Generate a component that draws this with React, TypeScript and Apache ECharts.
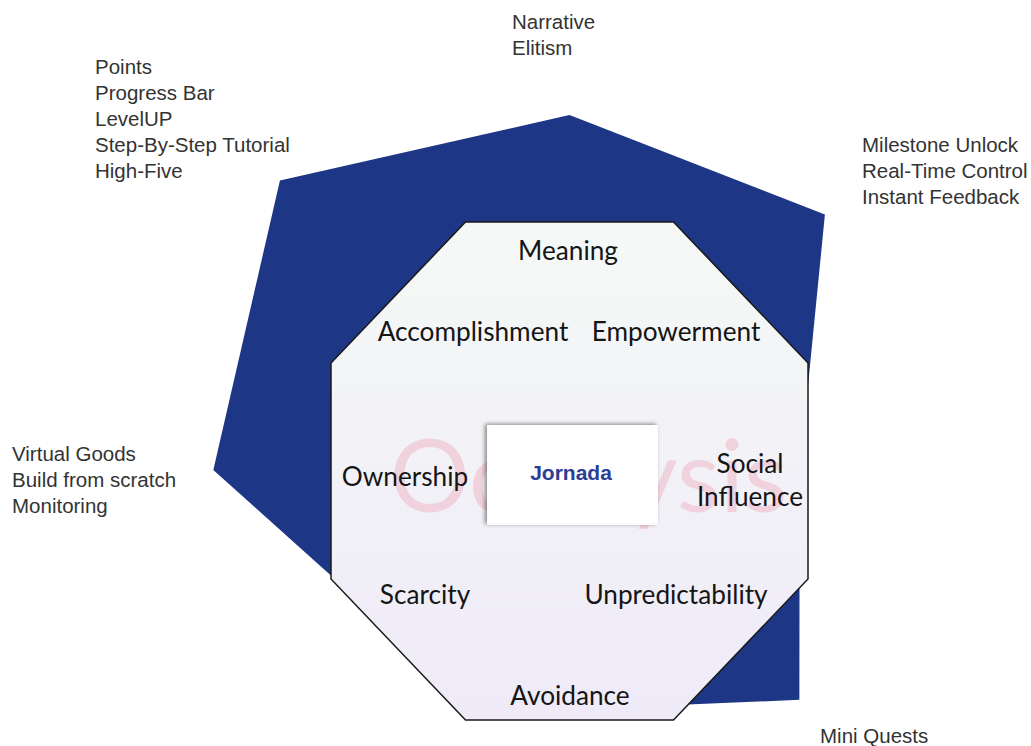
import React, { useEffect, useRef } from "react";
import * as echarts from "echarts";

// Core drives, counter-clockwise from top (ECharts radar order)
const coreDrives = [
  "Meaning",
  "Accomplishment",
  "Ownership",
  "Scarcity",
  "Avoidance",
  "Unpredictability",
  "Social Influence",
  "Empowerment",
];
// Scores (0-10) read from the dark polygon
const driveScores = [8.45, 9.75, 8.48, 5.67, 5.7, 7.74, 5.48, 8.6];
const scoreMax = 10;

// Game elements listed next to each drive
const elementsMeaning = ["Narrative", "Elitism"];
const elementsAccomplishment = ["Points", "Progress Bar", "LevelUP", "Step-By-Step Tutorial", "High-Five"];
const elementsEmpowerment = ["Milestone Unlock", "Real-Time Control", "Instant Feedback"];
const elementsOwnership = ["Virtual Goods", "Build from scratch", "Monitoring"];
const elementsUnpredictability = ["Mini Quests"];

const centerTitle = "Jornada";
const watermark = "Octalysis";

export default function App() {
  const ref = useRef<HTMLDivElement>(null);
  useEffect(() => {
    if (!ref.current) return;
    const chart = echarts.init(ref.current, undefined, { renderer: "svg" });
    const cx = 569.5;
    const cy = 471;
    const ax = 238.5, ay = 249, bx = 104, by = 108;
    const octagon = [
      [cx - bx, cy - ay],
      [cx + bx, cy - ay],
      [cx + ax, cy - by],
      [cx + ax, cy + by],
      [cx + bx, cy + ay],
      [cx - bx, cy + ay],
      [cx - ax, cy + by],
      [cx - ax, cy - by],
    ];
    const outerFont = { fontFamily: "Liberation Sans, Arial, sans-serif", fontSize: 20.5, fill: "#333", lineHeight: 25.8 };
    const driveFont = { fontFamily: "Lato, sans-serif", fontSize: 26.2, fill: "#151515", lineHeight: 33 };
    const block = (lines: string[], x: number, y: number) => ({
      type: "text",
      x,
      y,
      z: 20,
      style: { ...outerFont, text: lines.join("\n"), align: "left", verticalAlign: "top" },
    });
    const drive = (text: string, x: number, y: number) => ({
      type: "text",
      x,
      y,
      z: 20,
      style: { ...driveFont, text, align: "center", verticalAlign: "middle" },
    });
    chart.setOption({
      animation: false,
      backgroundColor: "#ffffff",
      radar: {
        center: [cx, cy - 1],
        radius: 420,
        startAngle: 90,
        shape: "polygon",
        splitNumber: 1,
        indicator: coreDrives.map((name) => ({ name, max: scoreMax, min: 0 })),
        axisName: { show: false },
        axisLine: { show: false },
        axisTick: { show: false },
        axisLabel: { show: false },
        splitLine: { show: false },
        splitArea: { show: false },
      },
      series: [
        {
          type: "radar",
          symbol: "none",
          lineStyle: { width: 0 },
          areaStyle: { color: "#1d3685", opacity: 1 },
          itemStyle: { color: "#1d3685" },
          data: [{ value: driveScores, name: centerTitle }],
        },
      ],
      graphic: [
        {
          type: "polygon",
          z: 10,
          shape: { points: octagon },
          style: {
            fill: new echarts.graphic.LinearGradient(0, 0, 0, 1, [
              { offset: 0, color: "#f5f9f6" },
              { offset: 1, color: "#efeaf8" },
            ]),
            stroke: "#1a1a1a",
            lineWidth: 1.5,
          },
        },
        {
          type: "text",
          x: cx + 19,
          y: cy + 2,
          z: 11,
          style: {
            text: watermark,
            fontFamily: "Lato, sans-serif",
            fontSize: 100,
            fontWeight: 400,
            fill: "rgba(238,130,155,0.28)",
            align: "center",
            verticalAlign: "middle",
          },
        },
        {
          type: "rect",
          z: 12,
          shape: { x: 487, y: 425, width: 171, height: 100 },
          style: {
            fill: "#fefefe",
            shadowColor: "rgba(0,0,0,0.45)",
            shadowBlur: 4,
            shadowOffsetX: -2,
            shadowOffsetY: -1,
          },
        },
        {
          type: "text",
          x: 571,
          y: 472,
          z: 13,
          style: {
            text: centerTitle,
            fontFamily: "Liberation Sans, Arial, sans-serif",
            fontSize: 21,
            fontWeight: "bold",
            fill: "#2b3d96",
            align: "center",
            verticalAlign: "middle",
          },
        },
        drive(coreDrives[0], 568, 250),
        drive(coreDrives[1], 473, 331),
        drive(coreDrives[7], 676, 331),
        drive(coreDrives[2], 405, 476),
        drive("Social\nInfluence", 750, 479),
        drive(coreDrives[3], 425, 594),
        drive(coreDrives[5], 676, 594),
        drive(coreDrives[4], 570, 695),
        block(elementsMeaning, 512, 9),
        block(elementsAccomplishment, 95, 54),
        block(elementsEmpowerment, 862, 132),
        block(elementsOwnership, 12, 441),
        block(elementsUnpredictability, 820, 723),
      ],
    });
    return () => chart.dispose();
  }, []);
  return (
    <div
      ref={ref}
      style={{ position: "absolute", left: 0, top: 0, width: 1031, height: 746 }}
    />
  );
}
